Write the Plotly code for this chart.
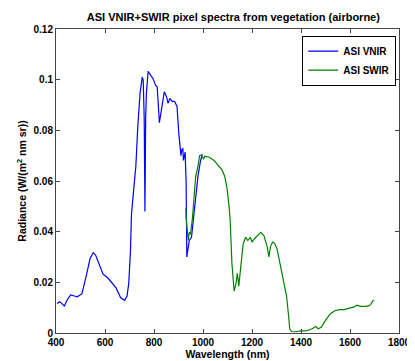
import plotly.graph_objects as go

vnir_wl = [404, 415, 422, 434, 447, 460, 475, 487, 506, 516, 526, 539, 552, 562, 579, 592,
           612, 631, 645, 664, 680, 690, 697, 704, 708, 717, 726, 734, 743, 752, 756, 760,
           763, 766, 769, 776, 786, 796, 806, 813, 822, 831, 842, 851, 857, 865, 874, 884,
           894, 901, 907, 910, 914, 918, 920, 927, 931, 934, 940, 944, 953, 960, 967, 973,
           980, 990, 997]
vnir_rad = [0.0116, 0.0123, 0.0118, 0.0107, 0.0133, 0.0150, 0.0146, 0.0143, 0.0155, 0.0190,
            0.0236, 0.0294, 0.0317, 0.0307, 0.0262, 0.0232, 0.0217, 0.0197, 0.0178, 0.0139,
            0.0129, 0.0146, 0.0197, 0.0326, 0.0468, 0.0565, 0.0660, 0.0817, 0.0946, 0.1010,
            0.0998, 0.0850, 0.0480, 0.0850, 0.0946, 0.1033, 0.1020, 0.1004, 0.0978, 0.0972,
            0.0830, 0.0894, 0.0952, 0.0933, 0.0907, 0.0926, 0.0914, 0.0914, 0.0894, 0.0790,
            0.0727, 0.0700, 0.0725, 0.0727, 0.0681, 0.0714, 0.0600, 0.0300, 0.0340, 0.0365,
            0.0378, 0.0443, 0.0507, 0.0585, 0.0623, 0.0680, 0.0705]

swir_wl = [930, 931, 936, 940, 944, 949, 957, 963, 970, 980, 986, 993, 1002, 1008, 1026,
           1045, 1065, 1078, 1089, 1098, 1107, 1111, 1118, 1127, 1135, 1140, 1146, 1153,
           1164, 1174, 1183, 1193, 1200, 1210, 1223, 1236, 1249, 1256, 1262, 1269, 1275,
           1284, 1292, 1302, 1311, 1322, 1332, 1341, 1348, 1354, 1361, 1380, 1400, 1420,
           1446, 1460, 1470, 1483, 1499, 1519, 1538, 1558, 1575, 1591, 1607, 1617, 1628,
           1643, 1663, 1676, 1685, 1693, 1699]
swir_rad = [0.0494, 0.0455, 0.0404, 0.0365, 0.0397, 0.0390, 0.0455, 0.0546, 0.0617, 0.0662,
            0.0700, 0.0703, 0.0688, 0.0698, 0.0694, 0.0681, 0.0655, 0.0643, 0.0617, 0.0572,
            0.0494, 0.0442, 0.0275, 0.0165, 0.0197, 0.0236, 0.0185, 0.0262, 0.0352, 0.0378,
            0.0365, 0.0378, 0.0359, 0.0372, 0.0384, 0.0397, 0.0384, 0.0365, 0.0340, 0.0300,
            0.0340, 0.0359, 0.0355, 0.0333, 0.0288, 0.0243, 0.0197, 0.0146, 0.0081, 0.0017,
            0.0006, 0.0005, 0.0008, 0.0008, 0.0017, 0.0026, 0.0017, 0.0023, 0.0049, 0.0075,
            0.0088, 0.0092, 0.0092, 0.0097, 0.0101, 0.0103, 0.0110, 0.0105, 0.0105, 0.0107,
            0.0113, 0.0127, 0.0130]

x_ticks = [400, 600, 800, 1000, 1200, 1400, 1600, 1800]
y_ticks = [0, 0.02, 0.04, 0.06, 0.08, 0.1, 0.12]
y_labels = ["0", "0.02", "0.04", "0.06", "0.08", "0.1", "0.12"]

FONT = "Liberation Sans, Arial, sans-serif"

fig = go.Figure()
fig.add_trace(go.Scatter(x=vnir_wl, y=vnir_rad, mode="lines", name="<b>ASI VNIR</b>",
                         line=dict(color="#0000FF", width=1.2)))
fig.add_trace(go.Scatter(x=swir_wl, y=swir_rad, mode="lines", name="<b>ASI SWIR</b>",
                         line=dict(color="#008000", width=1.2)))

axis_common = dict(showline=True, linecolor="#444444", linewidth=1, mirror="allticks",
                   ticks="inside", ticklen=4, tickcolor="#444444", showgrid=False,
                   zeroline=False, tickfont=dict(family=FONT, size=10, color="black"))

fig.update_layout(
    width=415, height=361,
    margin=dict(l=48, r=12, t=21, b=30),
    paper_bgcolor="white", plot_bgcolor="white",
    title=dict(text="<b>ASI VNIR+SWIR pixel spectra from vegetation (airborne)</b>",
               x=0.543, xanchor="center", y=0.975, yanchor="middle",
               font=dict(family=FONT, size=11, color="black")),
    xaxis=dict(range=[400, 1800], tickvals=x_ticks,
               ticktext=[f"<b>{v}</b>" for v in x_ticks],
               title=dict(text="<b>Wavelength (nm)</b>", standoff=2,
                          font=dict(family=FONT, size=10.5, color="black")),
               **axis_common),
    yaxis=dict(range=[0, 0.12], tickvals=y_ticks,
               ticktext=[f"<b>{v}</b>" for v in y_labels],
               title=dict(text="<b>Radiance (W/(m<sup>2</sup> nm sr))</b>", standoff=4,
                          font=dict(family=FONT, size=10.5, color="black")),
               **axis_common),
    legend=dict(x=0.992, y=0.978, xanchor="right", yanchor="top",
                bgcolor="white", bordercolor="black", borderwidth=1,
                font=dict(family=FONT, size=10, color="black"),
                tracegroupgap=0, itemwidth=30),
    showlegend=True,
)

fig.write_html("out.html")
